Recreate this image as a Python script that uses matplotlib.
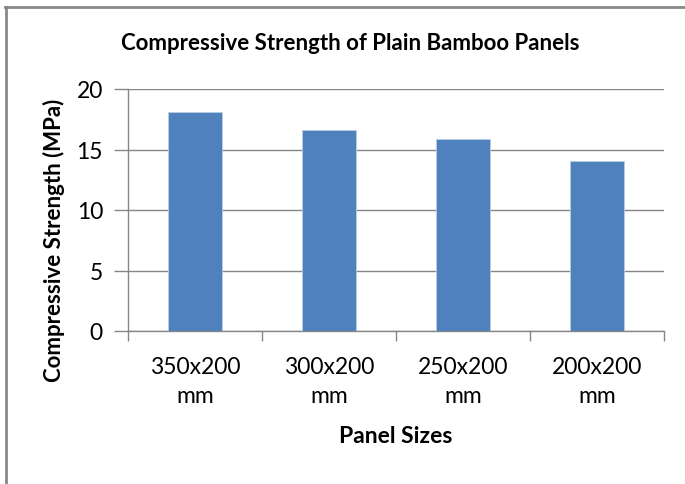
import matplotlib
matplotlib.use("Agg")
import matplotlib.pyplot as plt
from matplotlib.lines import Line2D

plt.rcParams['font.family'] = ['Lato', 'DejaVu Sans']

categories = ["350x200\nmm", "300x200\nmm", "250x200\nmm", "200x200\nmm"]
strength = [18.13, 16.59, 15.88, 14.06]
y_ticks = [0, 5, 10, 15, 20]

W, H = 685, 485
fig = plt.figure(figsize=(W / 100, H / 100), dpi=100)

# plot area in pixel terms
left, right, top, bottom = 128, 664, 90, 332
ax = fig.add_axes([left / W, 1 - bottom / H, (right - left) / W, (bottom - top) / H])

grey = "#868686"
x = list(range(len(categories)))
ax.bar(x, strength, width=0.4, color="#4F81BD", edgecolor="#B9CDE5", linewidth=0.6, zorder=3)

ax.set_xlim(-0.5, len(categories) - 0.5)
ax.set_ylim(0, 20)
ax.set_yticks(y_ticks)
ax.set_yticklabels([str(v) for v in y_ticks], fontsize=16.5)

# category boundaries carry the tick marks, centres carry the labels
ax.set_xticks([i - 0.5 for i in range(len(categories) + 1)])
ax.set_xticklabels([])
ax.set_xticks(x, minor=True)
ax.set_xticklabels(categories, minor=True, fontsize=16.5, linespacing=1.45)
ax.tick_params(axis='x', which='minor', length=0, pad=18)
ax.tick_params(axis='x', which='major', length=7, width=1, color=grey, direction='out')
ax.tick_params(axis='y', length=10, width=1, color=grey, direction='out', pad=8)

ax.grid(axis='y', color=grey, linewidth=1, zorder=0)
ax.set_axisbelow(True)
for s in ("top", "right"):
    ax.spines[s].set_visible(False)
for s in ("left", "bottom"):
    ax.spines[s].set_color(grey)
    ax.spines[s].set_linewidth(1)

ax.set_ylabel("Compressive Strength (MPa)", fontsize=16, fontweight='bold')
ax.yaxis.set_label_coords((65 - left) / (right - left), (bottom - 240) / (bottom - top))
ax.set_xlabel("Panel Sizes", fontsize=16.5, fontweight='bold', labelpad=14)

fig.text(350 / W, 1 - 43 / H, "Compressive Strength of Plain Bamboo Panels",
         fontsize=16, fontweight='bold', ha='center', va='center')

# chart frame
fig.add_artist(Line2D([5.5 / W, 5.5 / W], [0, 1 - 7.5 / H], color="#888888", linewidth=2,
                      transform=fig.transFigure))
fig.add_artist(Line2D([4.5 / W, 1], [1 - 7.5 / H, 1 - 7.5 / H], color="#888888", linewidth=2,
                      transform=fig.transFigure))

fig.savefig("out.png", dpi=100, facecolor="white")
